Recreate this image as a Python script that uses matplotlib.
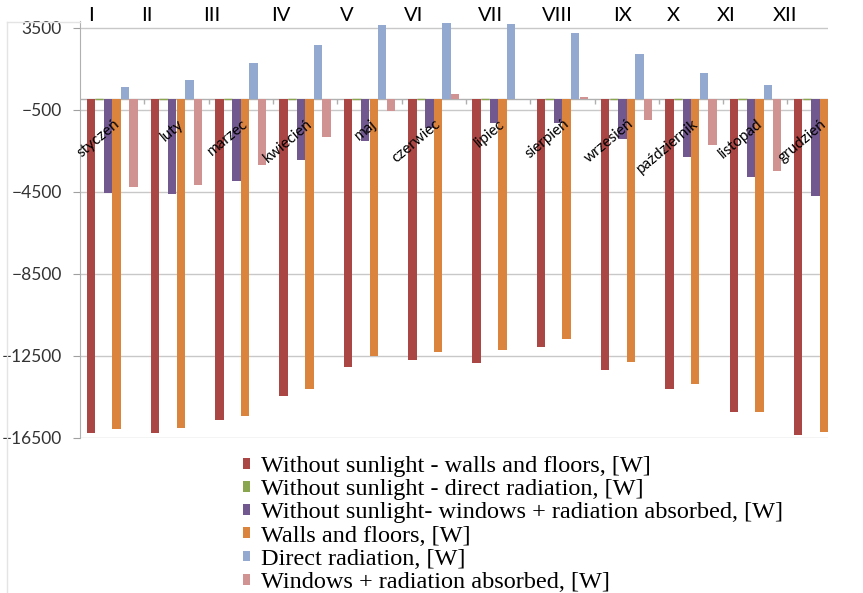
import matplotlib
matplotlib.use("Agg")
import matplotlib.pyplot as plt
from matplotlib.patches import Patch
from matplotlib.lines import Line2D
import numpy as np

# months (Polish) and roman numerals shown above
months = ['styczeń', 'luty', 'marzec', 'kwiecień', 'maj', 'czerwiec',
          'lipiec', 'sierpień', 'wrzesień', 'październik', 'listopad', 'grudzień']
roman = ['I', 'II', 'III', 'IV', 'V', 'VI', 'VII', 'VIII', 'IX', 'X', 'XI', 'XII']

# values, [W]
walls_nosun = [-16240, -16240, -15600, -14450, -13030, -12680, -12840, -12060, -13170, -14090, -15220, -16350]
direct_nosun = [0, 0, 0, 0, 0, 0, 0, 0, 0, 0, 0, 0]
windows_nosun = [-4550, -4610, -3980, -2950, -2030, -1400, -1170, -1170, -1950, -2790, -3800, -4710]
walls = [-16050, -16010, -15440, -14090, -12520, -12290, -12220, -11670, -12790, -13850, -15220, -16200]
direct = [620, 950, 1760, 2650, 3610, 3710, 3680, 3220, 2200, 1300, 700, 500]
windows_abs = [-4250, -4170, -3200, -1810, -550, 250, 30, 130, -1000, -2220, -3470, -4300]

labels = ['Without sunlight - walls and floors, [W]',
          'Without sunlight - direct radiation, [W]',
          'Without sunlight- windows + radiation absorbed, [W]',
          'Walls and floors, [W]',
          'Direct radiation, [W]',
          'Windows + radiation absorbed, [W]']
colors = ['#AA4643', '#89A54E', '#71588F', '#DB843D', '#93A9CF', '#D19392']
series = [walls_nosun, direct_nosun, windows_nosun, walls, direct, windows_abs]

# roman numerals are not centred on groups in the original
roman_shift = [-0.33, -0.46, -0.45, -0.37, -0.36, -0.32, -0.12, -0.07, -0.07, -0.28, -0.45, -0.54]

fig = plt.figure(figsize=(8.63, 5.93), dpi=100)
ax = fig.add_axes([80/863, 1-438/593, (828-80)/863, (438-21.5)/593])

x = np.arange(len(months))
w = 1/7.5
for j, (vals, c) in enumerate(zip(series, colors)):
    ax.bar(x + (j-2.5)*w, vals, width=w*0.98, color=c, zorder=3,
           edgecolor=c if j == 1 else 'none', linewidth=1.0)

ax.set_xlim(-0.5, 11.13)
ax.set_ylim(-16500, 3800)
ax.set_yticks(np.arange(-16500, 3501, 4000))
ax.yaxis.grid(True, color='#C8C8C8', linewidth=1.0, zorder=0)
ax.tick_params(axis='y', length=5, color='#A0A0A0', labelsize=12.5, pad=8, labelcolor='#333333')
ax.set_xticks([])
for s in ['top', 'right', 'bottom']:
    ax.spines[s].set_visible(False)
ax.spines['left'].set_color('#B0B0B0')

# category axis at zero with small ticks between groups
ax.axhline(0, color='#B0B0B0', linewidth=1.0, zorder=2)
ax.vlines(x[:-1] + 0.5, -240, 0, color='#B0B0B0', linewidth=1.0, zorder=2)

for i, m in enumerate(months):
    ax.text(i + 0.08, -1100, m, rotation=40, rotation_mode='anchor',
            ha='right', va='center', fontsize=11, family='Lato', zorder=4)
    ax.annotate(roman[i], xy=(i + roman_shift[i], 1.0), xycoords=('data', 'axes fraction'),
                xytext=(0, 4), textcoords='offset points', ha='center', va='center',
                fontsize=14.5, family='Lato', annotation_clip=False)

for t in ax.get_yticklabels():
    t.set_family('Lato')

handles = [Patch(facecolor=c, edgecolor='none') for c in colors]
fig.legend(handles, labels, loc='upper left', bbox_to_anchor=(243/863, 1-456/593),
           frameon=False, prop={'family': 'Liberation Serif', 'size': 17.5},
           handlelength=0.3, handleheight=0.3, handletextpad=0.45, labelspacing=0.09,
           borderpad=0, borderaxespad=0)

# faint border of the chart area
fig.add_artist(Line2D([7/863, 7/863], [0, 1-22/593], color='#E4E4E4', linewidth=1))
fig.add_artist(Line2D([7/863, 80/863], [1-22/593, 1-22/593], color='#E4E4E4', linewidth=1))

fig.savefig('out.png', dpi=100)
